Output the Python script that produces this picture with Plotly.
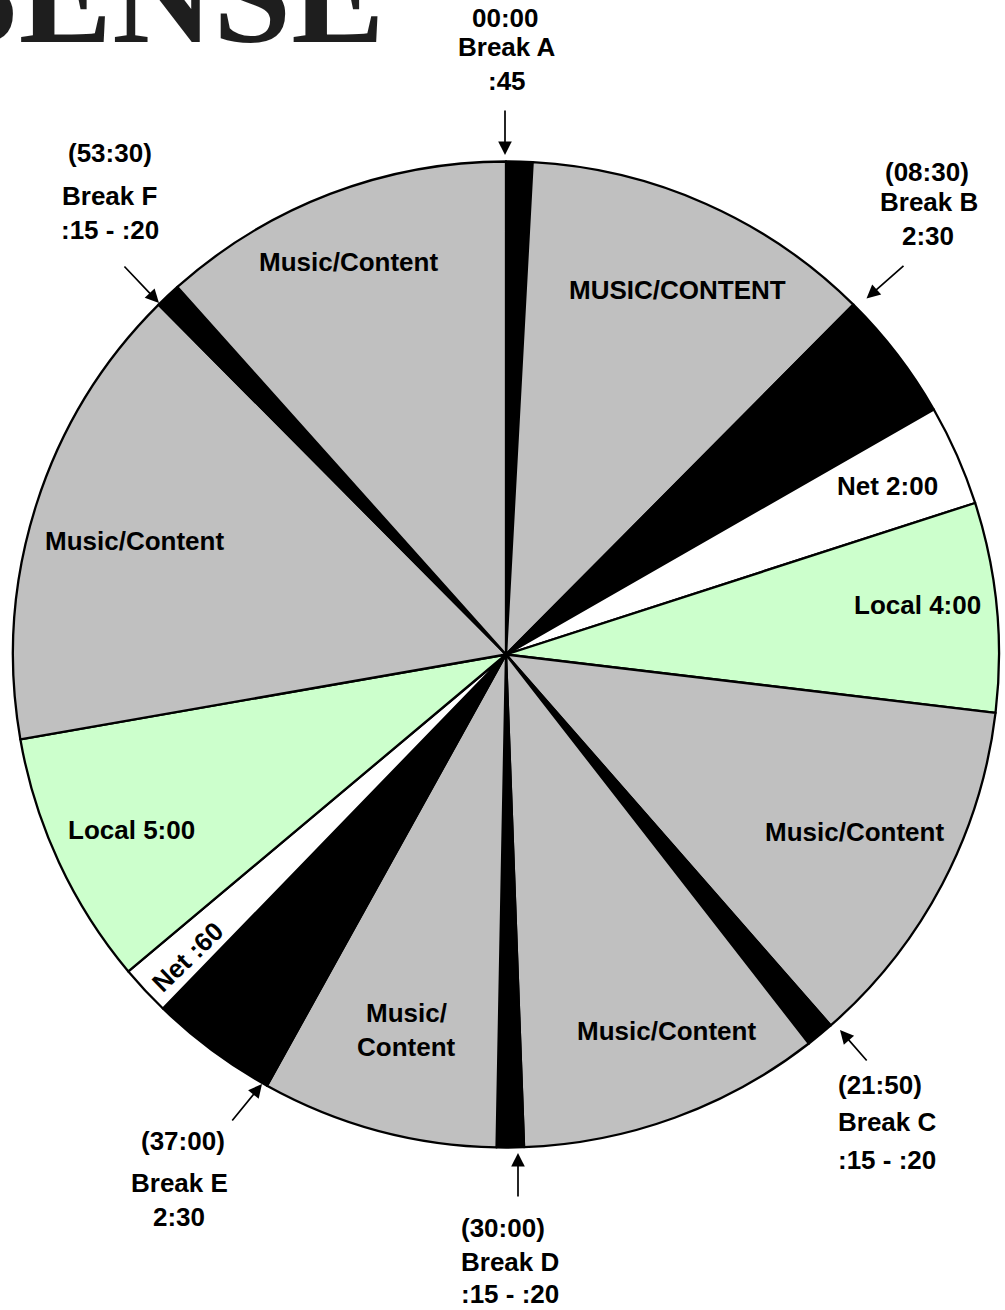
import plotly.graph_objects as go

W, H = 1005, 1310

# ---- data: clock segments, clockwise from 12 o'clock (angular share in degrees) ----
segments = ["Break A", "MUSIC/CONTENT", "Break B", "Net 2:00", "Local 4:00",
            "Music/Content R", "Break C", "Music/Content B", "Break D",
            "Music/Content BL", "Break E", "Net :60", "Local 5:00",
            "Music/Content L", "Break F", "Music/Content T"]
degrees = [3.1, 41.7, 15.4, 11.9, 24.7, 42.0, 3.3, 35.8, 3.2,
           27.9, 15.1, 5.9, 30.1, 55.1, 3.0, 41.8]
kinds = ["break", "content", "break", "net", "local", "content", "break", "content", "break",
         "content", "break", "net", "local", "content", "break", "content"]

# labels drawn inside the slices
inner_labels = ["MUSIC/CONTENT", "Music/Content", "Net 2:00", "Local 4:00", "Music/Content",
                "Music/Content", "Music/", "Content", "Music/Content", "Local 5:00", "Net :60"]

# labels outside the circle (one list per break)
break_a_lines = ["00:00", "Break A", ":45"]
break_b_lines = ["(08:30)", "Break B", "2:30"]
break_c_lines = ["(21:50)", "Break C", ":15 - :20"]
break_d_lines = ["(30:00)", "Break D", ":15 - :20"]
break_e_lines = ["(37:00)", "Break E", "2:30"]
break_f_lines = ["(53:30)", "Break F", ":15 - :20"]

logo_text = "SENSE"

# ---- styling ----
kind_colors = {"break": "#000000", "content": "#c0c0c0", "net": "#ffffff", "local": "#ccffcc"}
FONT = "Liberation Sans, Arial, sans-serif"
FS = 26


def px(x):
    return x / W


def py(y):
    return 1 - y / H


def txt(s, x, y, anchor="center", angle=0):
    return dict(text=s, x=px(x), y=py(y), xref="paper", yref="paper",
                xanchor=anchor, yanchor="middle", showarrow=False, textangle=angle,
                font=dict(family=FONT, size=FS, color="black", weight="bold"))


def arrow(x, y, ax, ay):
    return dict(text="", x=px(x), y=py(y), xref="paper", yref="paper",
                ax=ax, ay=ay, axref="pixel", ayref="pixel", showarrow=True,
                arrowhead=2, arrowsize=1.6, arrowwidth=1.7, arrowcolor="black", standoff=0)


fig = go.Figure()
fig.add_trace(go.Pie(
    labels=segments, values=degrees, sort=False, direction="clockwise", rotation=0,
    marker=dict(colors=[kind_colors[k] for k in kinds], line=dict(color="black", width=2.3)),
    textinfo="none", hoverinfo="skip", showlegend=False,
    domain=dict(x=[px(13), px(999)], y=[py(1147.5), py(161.5)]),
))

inner_pos = [(677, 290), (348, 262), (887, 486), (917, 605), (854, 832),
             (666, 1031), (406, 1013), (406, 1047), (134, 541), (131, 830), (187.5, 956.5)]
ann = []
for s, (x, y) in zip(inner_labels, inner_pos):
    ann.append(txt(s, x, y, angle=(-44 if s == "Net :60" else 0)))

outer = [
    (break_a_lines, [(505, 18), (507, 47), (507, 81)], "center"),
    (break_b_lines, [(926.5, 172), (928.5, 202), (927.5, 235.5)], "center"),
    (break_c_lines, [(836, 1085), (836, 1122), (836, 1160)], "left"),
    (break_d_lines, [(458.5, 1228), (458.5, 1262), (458.5, 1294)], "left"),
    (break_e_lines, [(182.5, 1141), (179.5, 1183), (178.5, 1217)], "center"),
    (break_f_lines, [(110, 153), (109, 196), (109.5, 230.5)], "center"),
]
for lines, pos, anc in outer:
    for s, (x, y) in zip(lines, pos):
        ann.append(txt(s, x, y, anchor=anc))

ann += [
    arrow(505, 155, 0, -46),
    arrow(866.5, 298.5, 38.5, -34),
    arrow(840, 1030, 28, 32),
    arrow(518, 1153, 0, 45),
    arrow(262, 1084, -31, 38),
    arrow(159, 303, -36, -38),
]

# partially visible logo at the top-left corner (cut by the page edge, as in the original)
ann.append(dict(text=logo_text, x=px(387), y=py(74), xref="paper", yref="paper",
                xanchor="right", yanchor="bottom", showarrow=False,
                font=dict(family="Liberation Serif, serif", size=140, color="#1e1e1e",
                          weight="bold")))

fig.update_layout(
    width=W, height=H, margin=dict(l=0, r=0, t=0, b=0),
    paper_bgcolor="white", plot_bgcolor="white",
    annotations=ann, hovermode=False,
)

fig.write_html("out.html", config={"displayModeBar": False},
               post_script="document.body.style.margin='0px';")
